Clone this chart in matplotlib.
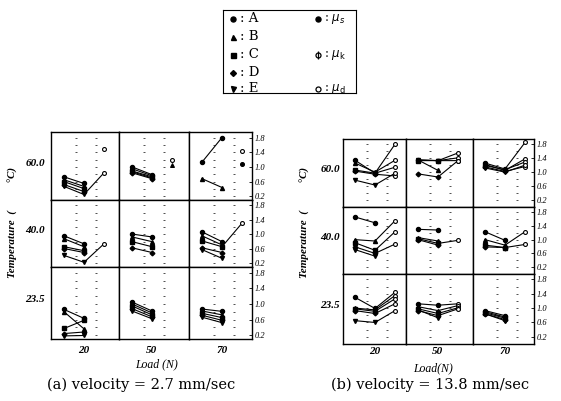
import numpy as np
import matplotlib
matplotlib.use("Agg")
import matplotlib.pyplot as plt

W, H = 561, 401
nan = np.nan

materials = ["A", "B", "C", "D", "E"]
mat_markers = ["o", "^", "s", "D", "v"]
temps = ["60.0", "40.0", "23.5"]
loads = ["20", "50", "70"]
right_ticks = [0.2, 0.6, 1.0, 1.4, 1.8]

# 각 셀: 재료 A~E 별 [mu_s, mu_k, mu_d]
# (a) velocity = 2.7 mm/sec
a_60 = [
    [[0.73, 0.55, nan], [0.65, 0.47, nan], [0.60, 0.41, nan], [0.52, 0.33, nan], [0.47, 0.25, 0.84]],
    [[1.00, 0.79, nan], [0.95, 0.76, nan], [0.89, 0.73, nan], [0.84, 0.68, nan], [0.87, 0.70, nan]],
    [[1.13, 1.80, nan], [0.68, 0.44, nan], [nan, nan, nan], [nan, nan, nan], [nan, nan, nan]],
]
a_40 = [
    [[0.96, 0.74, nan], [0.88, 0.66, nan], [0.66, 0.55, nan], [0.61, 0.50, nan], [0.42, 0.23, 0.74]],
    [[1.01, 0.93, nan], [0.93, 0.80, nan], [0.80, 0.66, nan], [0.63, 0.50, nan], [nan, nan, nan]],
    [[1.07, 0.80, nan], [0.96, 0.71, nan], [0.82, 0.66, 1.31], [0.63, 0.50, nan], [0.58, 0.34, nan]],
]
a_235 = [
    [[0.86, 0.63, nan], [0.80, 0.36, nan], [0.37, 0.58, nan], [0.24, 0.28, nan], [0.18, 0.19, nan]],
    [[1.05, 0.82, nan], [1.00, 0.77, nan], [0.95, 0.72, nan], [0.88, 0.67, nan], [0.82, 0.62, nan]],
    [[0.87, 0.81, nan], [0.82, 0.72, nan], [0.76, 0.65, nan], [0.71, 0.58, nan], [0.66, 0.52, nan]],
]
# 선 없이 찍힌 점 (row, col, marker, filled, value) - mu_d 위치
a_extra = [
    (0, 0, "o", False, 1.48),
    (0, 1, "o", False, 1.20),
    (0, 1, "^", True, 1.05),
    (0, 2, "o", False, 1.43),
    (0, 2, "o", True, 1.08),
]

# (b) velocity = 13.8 mm/sec
b_60 = [
    [[1.34, 0.97, 1.80], [1.26, 1.00, 1.34], [1.06, 0.97, 1.14], [1.03, 0.94, 0.89], [0.77, 0.63, 0.97]],
    [[1.35, 1.33, 1.55], [1.35, 1.05, nan], [1.33, 1.33, 1.41], [0.95, 0.86, 1.33], [1.35, 1.33, 1.33]],
    [[1.26, 1.09, 1.85], [1.22, 1.05, 1.38], [1.19, 1.07, 1.29], [1.15, 1.02, 1.16], [1.12, 1.00, 1.20]],
]
b_40 = [
    [[1.66, 1.49, nan], [1.00, 0.96, 1.55], [0.91, 0.69, 1.23], [0.79, 0.60, 0.87], [0.71, 0.52, nan]],
    [[1.30, 1.28, nan], [1.06, 0.96, nan], [1.03, 0.89, 0.98], [1.00, 0.84, nan], [nan, nan, nan]],
    [[1.23, 0.98, nan], [1.00, 0.84, 1.23], [0.84, 0.77, 0.86], [0.79, 0.77, nan], [nan, nan, nan]],
]
b_235 = [
    [[1.30, 0.99, 1.44], [1.00, 0.95, 1.35], [0.98, 0.91, 1.26], [0.93, 0.85, 1.12], [0.65, 0.60, 0.93]],
    [[1.12, 1.08, 1.12], [1.04, 0.93, 1.07], [0.98, 0.85, 1.01], [0.93, 0.79, 0.98], [0.95, 0.73, nan]],
    [[0.93, 0.79, nan], [0.90, 0.75, nan], [0.87, 0.72, nan], [0.84, 0.68, nan], [0.84, 0.65, nan]],
]
b_extra = []

fig = plt.figure(figsize=(W / 100, H / 100), dpi=100)
fig.patch.set_facecolor("white")

ITAL = dict(family="Liberation Serif", style="italic")


def px_axes(x0, y0, x1, y1):
    return fig.add_axes([x0 / W, 1 - y1 / H, (x1 - x0) / W, (y1 - y0) / H])


def draw_panel(rows_data, extras, cols_px, rows_px, ylim, x_left, caption, cap_x,
               load_text, load_x, load_y, tick_pad, temp_right, ylab_x):
    for r in range(3):
        for c in range(3):
            x0, x1 = cols_px[c], cols_px[c + 1]
            y0, y1 = rows_px[r], rows_px[r + 1]
            ax = px_axes(x0, y0, x1, y1)
            ax.set_xlim(x_left, x_left + (x1 - x0) / 20)
            ax.set_ylim(*ylim)
            for sp in ax.spines.values():
                sp.set_linewidth(1.0)
            # 점선 가이드
            gy = np.arange(0.2, 1.85, 0.2)
            for gx in (0.6, 1.6):
                ax.plot([gx] * len(gy), gy, ls="none", marker="_", ms=1.8,
                        mew=0.6, color="#333333")
            cell = rows_data[r][c]
            for m, vals in enumerate(cell):
                vals = np.array(vals, dtype=float)
                ax.plot([0, 1, 2], vals, color="black", lw=0.8)
                ms = 2.4 if mat_markers[m] == "D" else 2.9
                ax.plot([0, 1], vals[:2], ls="none", marker=mat_markers[m],
                        ms=ms, color="black")
                ax.plot([2], vals[2:], ls="none", marker="o", ms=2.8,
                        mfc="white", mec="black", mew=0.8)
            for (er, ec, mk, filled, v) in extras:
                if er == r and ec == c:
                    ax.plot([2], [v], ls="none", marker=mk, ms=2.8,
                            mfc="black" if filled else "white", mec="black", mew=0.8)
            ax.set_xticks([])
            ax.set_yticks([])
            if c == 2:
                ax.yaxis.tick_right()
                ax.set_yticks(right_ticks)
                ax.set_yticklabels([f"{t:.1f}" for t in right_ticks], fontsize=6,
                                   **ITAL)
                ax.tick_params(axis="y", direction="in", length=2.5, width=0.6, pad=2)
            if r == 2:
                ax.set_xticks([1])
                ax.set_xticklabels([loads[c]], fontsize=8, weight="bold", **ITAL)
                ax.tick_params(axis="x", length=0, pad=tick_pad)
        yc = (rows_px[r] + rows_px[r + 1]) / 2 - 3
        fig.text(temp_right / W, 1 - yc / H, temps[r], ha="right", va="center",
                 fontsize=8, weight="bold", **ITAL)
    fig.text(ylab_x / W, 1 - 222 / H, "Temperature  (          \u00b0C)", rotation=90,
             ha="center", va="center", fontsize=8, weight="bold", **ITAL)
    fig.text(load_x / W, 1 - load_y / H, load_text, ha="center", va="center",
             fontsize=8.5, **ITAL)
    fig.text(cap_x / W, 1 - 385 / H, caption, ha="center", va="center",
             fontsize=10.5, family="DejaVu Serif")


draw_panel([a_60, a_40, a_235], a_extra, [51, 119, 189, 252], [132, 200, 267, 339],
           (0.1, 1.95), -0.65, "(a) velocity = 2.7 mm/sec", 141, "Load (N)", 157, 364, 5,
           45, 13)
draw_panel([b_60, b_40, b_235], b_extra, [343, 406, 473, 534], [139, 207, 274, 344],
           (0.0, 1.95), -0.6, "(b) velocity = 13.8 mm/sec", 430, "Load(N)", 433, 368, 2,
           340, 305)

# 범례 박스
lg = px_axes(223, 10, 356, 93)
lg.set_xlim(223, 356)
lg.set_ylim(93, 10)
lg.set_xticks([])
lg.set_yticks([])
for sp in lg.spines.values():
    sp.set_linewidth(0.8)
row_y = [19, 37, 55, 73, 89]
for i, (name, mk) in enumerate(zip(materials, mat_markers)):
    ms = 3 if mk == "D" else 3.6
    lg.plot([233], [row_y[i]], ls="none", marker=mk, ms=ms, color="black")
    lg.text(240, row_y[i], ": " + name, va="center", ha="left", fontsize=9.5,
            family="DejaVu Serif")
lg.plot([318], [row_y[0]], ls="none", marker="o", ms=3.6, color="black")
lg.text(324, row_y[0], r": $\mu_s$", va="center", ha="left", fontsize=8.5, family="DejaVu Serif")
lg.plot([318], [row_y[2]], ls="none", marker="o", ms=3.6, mfc="white", mec="black", mew=0.9)
lg.plot([318], [row_y[2]], ls="none", marker="|", ms=6, color="black", mew=0.9)
lg.text(324, row_y[2], r": $\mu_{\rm k}$", va="center", ha="left", fontsize=8.5, family="DejaVu Serif")
lg.plot([318], [row_y[4]], ls="none", marker="o", ms=3.6, mfc="white", mec="black", mew=0.9)
lg.text(324, row_y[4], r": $\mu_{\rm d}$", va="center", ha="left", fontsize=8.5, family="DejaVu Serif")

fig.savefig("out.png", dpi=100, facecolor="white")
